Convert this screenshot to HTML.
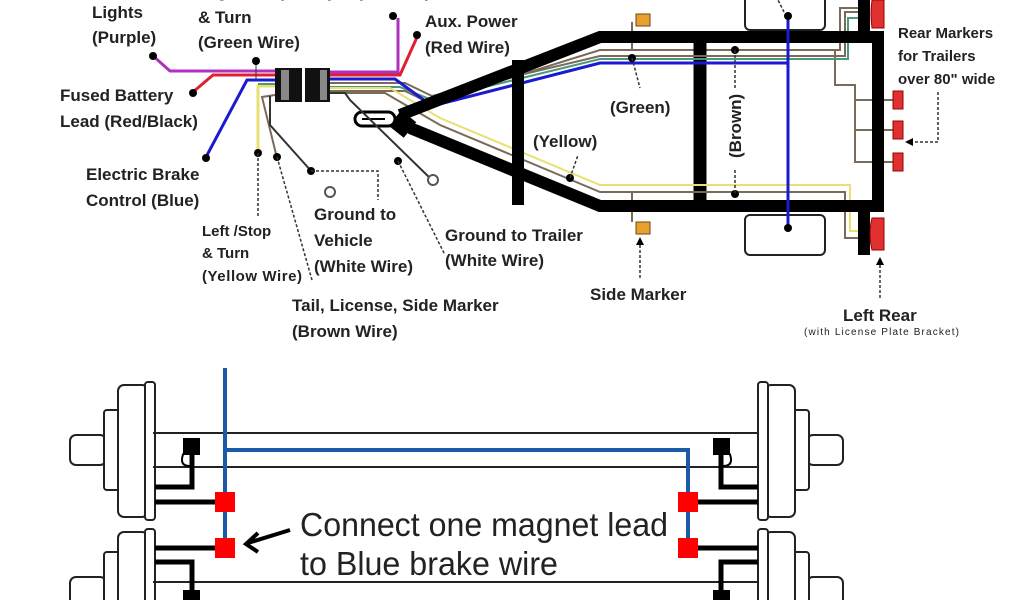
<!DOCTYPE html>
<html><head><meta charset="utf-8"><style>
html,body{margin:0;padding:0;background:#fff;width:1024px;height:600px;overflow:hidden}
svg{display:block}
text{font-family:"Liberation Sans",sans-serif;fill:#222}
</style></head><body>
<svg width="1024" height="600" viewBox="0 0 1024 600" xmlns="http://www.w3.org/2000/svg">
<rect x="745" y="-6" width="80" height="36" rx="5" fill="#fff" stroke="#222" stroke-width="2"/>
<rect x="745" y="215" width="80" height="40" rx="5" fill="#fff" stroke="#222" stroke-width="2"/>
<g fill="none" stroke-width="2">
<polyline points="330,91 405,91 430,103 600,50 840,50 840,8 860,8" stroke="#7a6a5a"/>
<polyline points="330,83 405,83 432,96 600,56 845,56 845,12 860,12" stroke="#7a6a5a"/>
<polyline points="330,87 400,87 432,100 600,59 848,59 848,18 862,18" stroke="#4a9a7a"/>
<polyline points="330,79 395,79 432,106 600,63 788,63" stroke="#1a1ad0" stroke-width="3"/>
<polyline points="330,88 390,88 440,118 600,185 850,185 850,231 860,231" stroke="#e8e070"/>
<polyline points="330,93 385,93 440,125 600,192 845,192 845,238 860,238" stroke="#7a6a5a"/>
<polyline points="835,50 835,85 855,85 855,100 893,100" stroke="#7a6a5a"/>
<polyline points="855,100 855,162 893,162" stroke="#7a6a5a"/>
<line x1="855" y1="130" x2="893" y2="130" stroke="#7a6a5a"/>
<line x1="632" y1="22" x2="632" y2="50" stroke="#7a6a5a"/>
<line x1="632" y1="192" x2="632" y2="222" stroke="#7a6a5a"/>
</g>
<g fill="none" stroke="#000" stroke-linejoin="miter">
<polyline points="400,115 600,37 878,37 878,206 600,206 410,128" stroke-width="12"/>
<line x1="518" y1="60" x2="518" y2="205" stroke-width="12"/>
<line x1="700" y1="37" x2="700" y2="205" stroke-width="13"/>
<line x1="864" y1="0" x2="864" y2="37" stroke-width="12"/>
<line x1="864" y1="206" x2="864" y2="255" stroke-width="12"/>
<polyline points="395,118 410,130" stroke-width="20"/>
</g>
<g fill="none" stroke-width="2">
<line x1="600" y1="56" x2="845" y2="56" stroke="#7a6a5a"/>
<line x1="600" y1="59" x2="848" y2="59" stroke="#4a9a7a"/>
<line x1="600" y1="63" x2="788" y2="63" stroke="#1a1ad0" stroke-width="3"/>
<line x1="600" y1="185" x2="850" y2="185" stroke="#e8e070"/>
<line x1="600" y1="192" x2="845" y2="192" stroke="#7a6a5a"/>
</g>
<line x1="788" y1="15" x2="788" y2="228" stroke="#1a1ad0" stroke-width="3"/>
<circle cx="788" cy="16" r="4"/><circle cx="788" cy="228" r="4"/>
<rect x="355" y="112" width="40" height="14" rx="7" fill="#fff" stroke="#000" stroke-width="3"/>
<line x1="362" y1="119" x2="385" y2="119" stroke="#000" stroke-width="2"/>
<path d="M872,0 H884 V28 H872 Q870,14 872,0Z" fill="#e03030" stroke="#900"/>
<path d="M872,218 H884 V250 H872 Q868,234 872,218Z" fill="#e03030" stroke="#900"/>
<rect x="893" y="91" width="10" height="18" fill="#e03030" stroke="#900"/>
<rect x="893" y="121" width="10" height="18" fill="#e03030" stroke="#900"/>
<rect x="893" y="153" width="10" height="18" fill="#e03030" stroke="#900"/>
<rect x="636" y="14" width="14" height="12" fill="#e8a030" stroke="#6a4a10"/>
<rect x="636" y="222" width="14" height="12" fill="#e8a030" stroke="#6a4a10"/>
<g fill="none" stroke-width="3">
<polyline points="152,55 170,71 275,71" stroke="#b030c0"/>
<polyline points="330,72 398,72 398,18" stroke="#b030c0"/>
<polyline points="330,75 400,75 418,35" stroke="#e02030"/>
<polyline points="193,92 213,75 275,75" stroke="#e02030"/>
<polyline points="206,157 247,80 275,80" stroke="#1a1ad0"/>
<polyline points="258,152 258,86 275,86" stroke="#e8e070"/>
<line x1="258" y1="84" x2="275" y2="84" stroke="#4a9a7a" stroke-width="2"/>
<polyline points="277,158 262,97 275,95" stroke="#7a6a5a" stroke-width="2"/>
<polyline points="312,172 270,125 270,96" stroke="#333" stroke-width="2"/>
<polyline points="432,180 350,100 345,93 330,93" stroke="#333" stroke-width="2"/>
<line x1="256" y1="62" x2="256" y2="80" stroke="#333" stroke-width="1"/>
</g>
<g fill="#000"><circle cx="153" cy="56" r="4"/><circle cx="193" cy="93" r="4"/><circle cx="206" cy="158" r="4"/>
<circle cx="256" cy="61" r="4"/><circle cx="393" cy="16" r="4"/><circle cx="417" cy="35" r="4"/>
<circle cx="258" cy="153" r="4"/><circle cx="277" cy="157" r="4"/><circle cx="311" cy="171" r="4"/><circle cx="398" cy="161" r="4"/>
<circle cx="632" cy="58" r="4"/><circle cx="735" cy="50" r="4"/><circle cx="735" cy="194" r="4"/><circle cx="570" cy="178" r="4"/></g>
<circle cx="330" cy="192" r="5" fill="#fff" stroke="#555" stroke-width="2"/>
<circle cx="433" cy="180" r="5" fill="#fff" stroke="#555" stroke-width="2"/>
<rect x="275" y="68" width="27" height="34" fill="#111"/><rect x="281" y="70" width="8" height="30" fill="#888"/>
<rect x="305" y="68" width="25" height="34" fill="#111"/><rect x="320" y="70" width="7" height="30" fill="#888"/>
<g fill="none" stroke="#333" stroke-width="1.5" stroke-dasharray="3,2">
<line x1="258" y1="153" x2="258" y2="216"/>
<polyline points="277,157 312,280"/>
<polyline points="311,171 378,171 378,200"/>
<polyline points="398,161 445,255"/>
<line x1="632" y1="58" x2="640" y2="88"/>
<line x1="570" y1="178" x2="578" y2="155"/>
<line x1="735" y1="50" x2="735" y2="90"/><line x1="735" y1="170" x2="735" y2="194"/>
<line x1="784" y1="12" x2="778" y2="0"/>
<line x1="640" y1="245" x2="640" y2="280"/>
<line x1="880" y1="265" x2="880" y2="300"/>
<polyline points="938,92 938,142 912,142"/>
</g>
<path d="M640,237 l-4,8 h8z M880,257 l-4,8 h8z M905,142 l8,-4 v8z"/>
<g font-size="17" font-weight="bold">
<text x="200" y="-3">Right, Stop</text><text x="325" y="-3">(Purple Wire)</text>
<text x="92" y="18">Lights</text><text x="92" y="43">(Purple)</text>
<text x="198" y="23">&amp; Turn</text><text x="198" y="48">(Green Wire)</text>
<text x="425" y="27">Aux. Power</text><text x="425" y="53">(Red Wire)</text>
<text x="60" y="101">Fused Battery</text><text x="60" y="127">Lead (Red/Black)</text>
<text x="86" y="180">Electric Brake</text><text x="86" y="206">Control (Blue)</text>
<text x="314" y="220">Ground to</text><text x="314" y="246">Vehicle</text><text x="314" y="272">(White Wire)</text>
<text x="445" y="241">Ground to Trailer</text><text x="445" y="266">(White Wire)</text>
<text x="292" y="311">Tail, License, Side Marker</text><text x="292" y="337">(Brown Wire)</text>
<text x="610" y="113">(Green)</text><text x="533" y="147">(Yellow)</text>
<text transform="translate(741,158) rotate(-90)">(Brown)</text>
<text x="590" y="300">Side Marker</text>
<text x="843" y="321">Left Rear</text>
</g>
<g font-size="15" font-weight="bold">
<text x="202" y="236">Left /Stop</text><text x="202" y="258">&amp; Turn</text><text x="202" y="281" textLength="100">(Yellow Wire)</text>
<text x="898" y="38">Rear Markers</text><text x="898" y="61">for Trailers</text><text x="898" y="84">over 80" wide</text>
</g>
<text x="804" y="335" font-size="10" textLength="155">(with License Plate Bracket)</text>
<g id="ax" fill="#fff" stroke="#222" stroke-width="2">
<line x1="155" y1="433" x2="760" y2="433"/><line x1="155" y1="467" x2="760" y2="467"/>
<rect x="70" y="435" width="36" height="30" rx="6"/>
<rect x="104" y="410" width="16" height="80" rx="3"/>
<rect x="118" y="385" width="30" height="132" rx="6"/>
<rect x="145" y="382" width="10" height="138" rx="3"/>
<rect x="70" y="577" width="36" height="30" rx="6"/>
<rect x="104" y="552" width="16" height="80" rx="3"/>
<rect x="118" y="532" width="30" height="132" rx="6"/>
<rect x="145" y="529" width="10" height="138" rx="3"/>
<line x1="155" y1="582" x2="760" y2="582"/>
</g>
<use href="#ax" transform="translate(913,0) scale(-1,1)"/>
<g fill="none" stroke="#000" stroke-width="5">
<line x1="155" y1="502" x2="218" y2="502"/><polyline points="155,487 192,487 192,450"/>
<line x1="155" y1="548" x2="218" y2="548"/><polyline points="155,562 192,562 192,590"/>
<line x1="758" y1="502" x2="695" y2="502"/><polyline points="758,487 721,487 721,450"/>
<line x1="758" y1="548" x2="695" y2="548"/><polyline points="758,562 721,562 721,590"/>
</g>
<rect x="183" y="438" width="17" height="17"/><rect x="713" y="438" width="17" height="17"/>
<rect x="183" y="590" width="17" height="10"/><rect x="713" y="590" width="17" height="10"/>
<path d="M192,450 q-10,0 -10,10 q0,6 8,6" fill="none" stroke="#000" stroke-width="2"/>
<path d="M721,450 q10,0 10,10 q0,6 -8,6" fill="none" stroke="#000" stroke-width="2"/>
<g fill="none" stroke="#1a5aa8" stroke-width="4">
<line x1="225" y1="368" x2="225" y2="550"/>
<polyline points="225,450 688,450 688,550"/>
</g>
<g fill="#f00"><rect x="215" y="492" width="20" height="20"/><rect x="215" y="538" width="20" height="20"/>
<rect x="678" y="492" width="20" height="20"/><rect x="678" y="538" width="20" height="20"/></g>
<path d="M290,530 L248,543 M258,533 L246,544 L258,552" fill="none" stroke="#000" stroke-width="4"/>
<text x="300" y="536" font-size="33" textLength="368" lengthAdjust="spacingAndGlyphs">Connect one magnet lead</text>
<text x="300" y="575" font-size="33" textLength="258" lengthAdjust="spacingAndGlyphs">to Blue brake wire</text>
</svg>
</body></html>
